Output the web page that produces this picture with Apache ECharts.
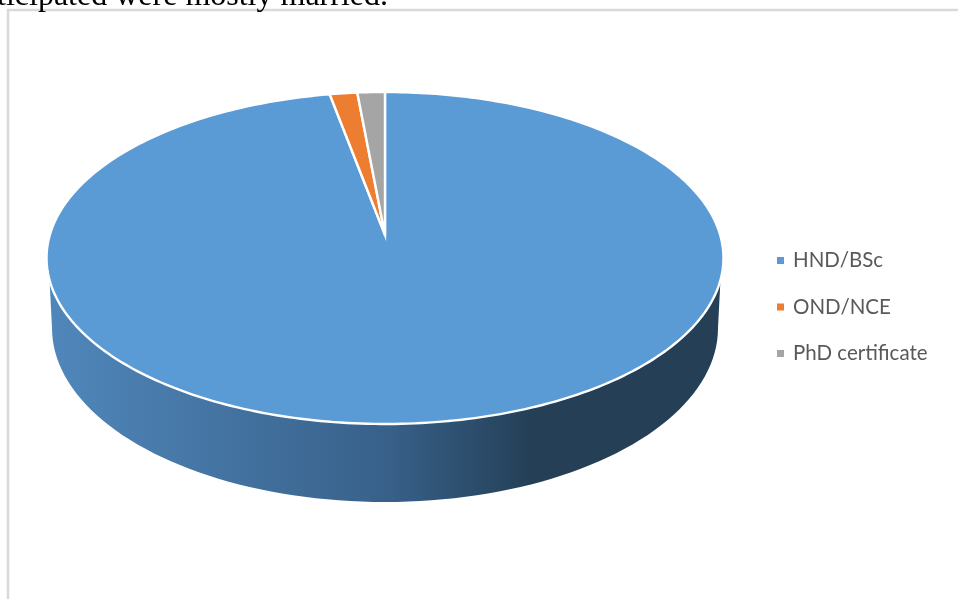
<!DOCTYPE html>
<html>
<head>
<meta charset="utf-8">
<style>html,body{margin:0;padding:0;background:#fff}#chart{width:958px;height:599px}</style>
<script src="https://cdn.jsdelivr.net/npm/echarts@6/dist/echarts.min.js"></script>
</head>
<body>
<div id="chart"></div>
<script>
// Highest qualification held by respondents, in percent
const categories = ['HND/BSc', 'OND/NCE', 'PhD certificate'];
const shares = [97, 1.5, 1.5];
const colors = ['#5b9bd5', '#ed7d31', '#a5a5a5'];

// Tilted disc: a circle seen in perspective, so the hub sits above the ellipse centre
const hub = { x: 385, y: 235 };
const tilt = { a: 335.2, b: 162.8, k: 0.1386 };
const rim = { cx: 385, cy: 258, a: 338, b: 166 };
const base = { cx: 385, cy: 328, a: 333, b: 174 };

function project(deg) {
  const t = deg * Math.PI / 180;
  const u = Math.sin(t), v = Math.cos(t);
  const d = 1 + tilt.k * v;
  return [hub.x + tilt.a * u / d, hub.y - tilt.b * v / d];
}

const total = shares.reduce((s, v) => s + v, 0);
const starts = shares.map((_, i) => shares.slice(0, i).reduce((s, v) => s + v, 0) / total * 360);

function sliceItem(index) {
  return function (params, api) {
    const from = starts[index];
    const to = from + api.value(0) / total * 360;
    const pts = [[hub.x, hub.y]];
    const steps = Math.max(2, Math.ceil(to - from));
    for (let i = 0; i <= steps; i++) pts.push(project(from + (to - from) * i / steps));
    return {
      type: 'polygon',
      z2: 10,
      shape: { points: pts },
      style: { fill: api.visual('color'), stroke: '#fff', lineWidth: 2.4, lineJoin: 'miter' }
    };
  };
}

function wallItem() {
  const pts = [];
  for (let d = 176; d <= 364; d += 2) {
    const t = d * Math.PI / 180;
    pts.push([rim.cx + rim.a * Math.cos(t), rim.cy - rim.b * Math.sin(t)]);
  }
  for (let d = 360; d >= 180; d -= 2) {
    const t = d * Math.PI / 180;
    pts.push([base.cx + base.a * Math.cos(t), base.cy - base.b * Math.sin(t)]);
  }
  return {
    type: 'polygon',
    z2: 1,
    shape: { points: pts },
    style: {
      fill: new echarts.graphic.LinearGradient(0, 0, 1, 0, [
        { offset: 0, color: '#5087bb' },
        { offset: 0.5, color: '#38618a' },
        { offset: 0.72, color: '#243f56' },
        { offset: 1, color: '#243f56' }
      ])
    }
  };
}

const chart = echarts.init(document.getElementById('chart'), null, { renderer: 'canvas' });
chart.setOption({
  animation: false,
  backgroundColor: '#fff',
  legend: {
    data: categories,
    orient: 'vertical',
    left: 772,
    top: 245,
    icon: 'rect',
    itemWidth: 7,
    itemHeight: 7,
    itemGap: 25.5,
    selectedMode: false,
    textStyle: { fontFamily: 'Lato', fontSize: 20.5, color: '#595959', padding: [0, 0, 0, 4] }
  },
  graphic: [
    { type: 'rect', silent: true, z: 0,
      shape: { x: 8, y: 10, width: 960, height: 600 },
      style: { fill: '#fff', stroke: '#d9d9d9', lineWidth: 2.5 } },
    { type: 'text', silent: true, z: 1, x: 388, y: 13,
      style: { text: 'ticipated were mostly married.', font: '32px "Liberation Serif"', fill: '#000',
               align: 'right', verticalAlign: 'bottom' } }
  ],
  series: [
    { type: 'custom', name: 'side', coordinateSystem: 'none', silent: true, z: 2,
      renderItem: wallItem, data: [[shares[0]]] },
    ...categories.map((name, i) => ({
      type: 'custom',
      name,
      coordinateSystem: 'none',
      z: 3,
      itemStyle: { color: colors[i] },
      renderItem: sliceItem(i),
      data: [[shares[i]]]
    }))
  ]
});
</script>
</body>
</html>
